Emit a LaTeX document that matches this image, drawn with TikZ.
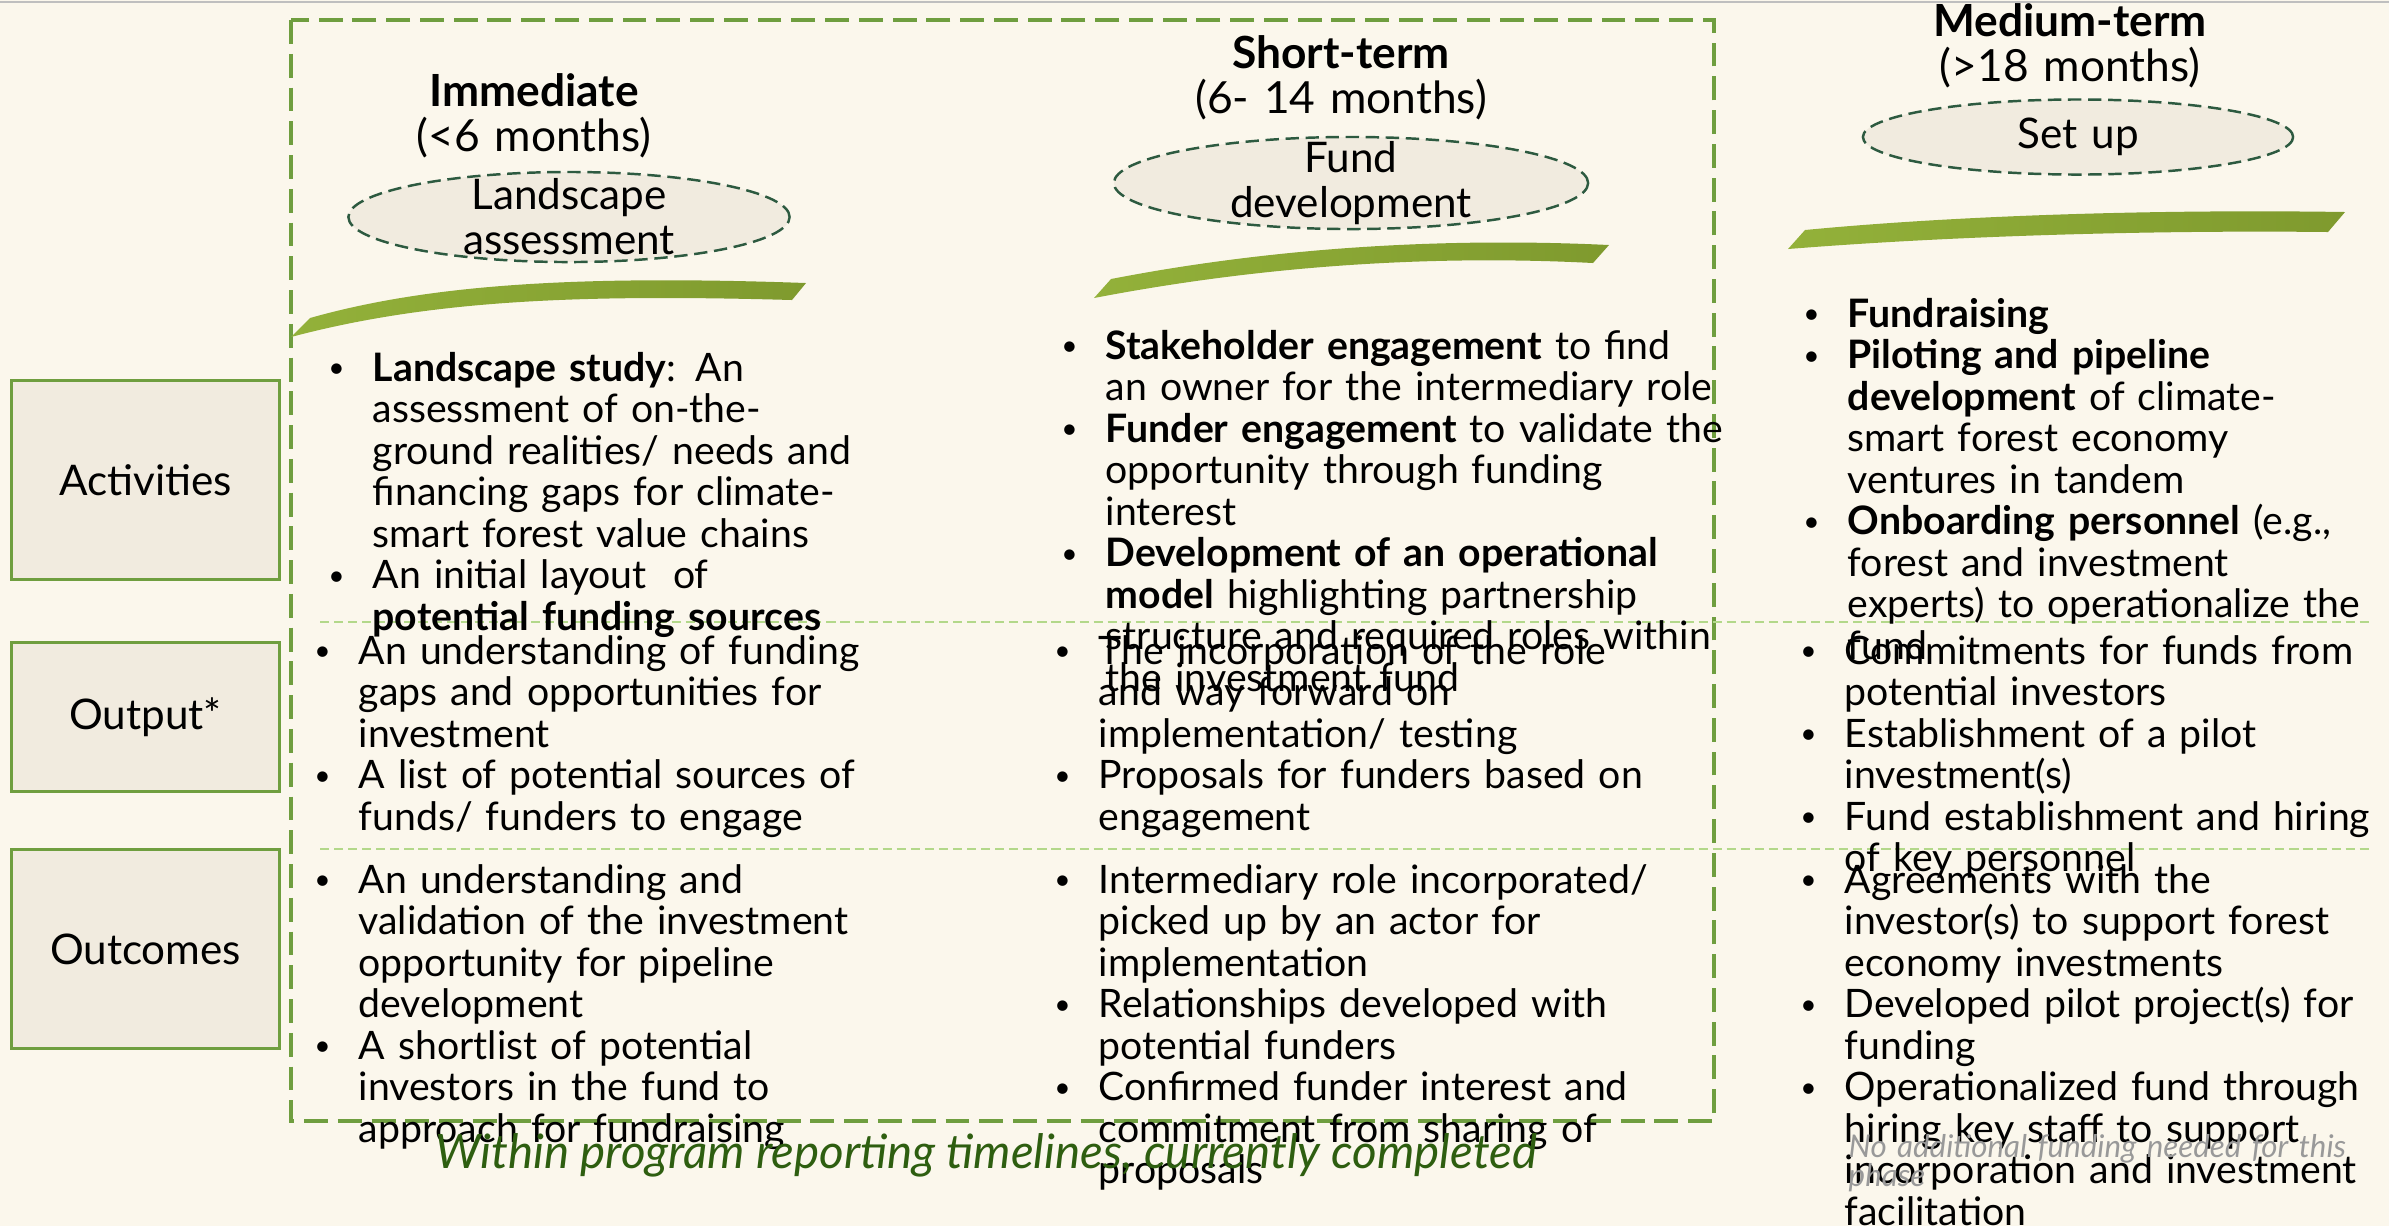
\documentclass[tikz,border=0pt]{standalone}
\usepackage{fontspec}
\setmainfont{Lato}
\usepackage{tikz}
\usetikzlibrary{shapes.geometric}

\definecolor{paper}{HTML}{FBF7EC}
\definecolor{leaf}{HTML}{6F9E3F}
\definecolor{pale}{HTML}{B3D88A}
\definecolor{boxfill}{HTML}{F1EBDF}
\definecolor{pine}{HTML}{2D5A40}
\definecolor{moss}{HTML}{2E5E10}
\definecolor{olive1}{HTML}{93B13A}
\definecolor{olive2}{HTML}{7F9A2E}

% small bullet hanging left of the text column
\newcommand{\itm}{\leavevmode\llap{\raisebox{0.9pt}{\fontsize{8}{8}\selectfont\textbullet}\hspace{8pt}}}

\tikzset{
  % dashed frame round the first two periods
  frame/.style={draw=leaf, line width=0.9pt, dash pattern=on 6.8pt off 2.8pt},
  % thin line between the rows
  rowline/.style={draw=pale, line width=0.55pt, dash pattern=on 2.6pt off 1.4pt},
  % boxes on the left
  rowbox/.style={
    rectangle,
    draw=leaf, line width=0.85pt,
    fill=boxfill,
    minimum width=2.67cm,
    font=\fontsize{12}{14}\selectfont},
  % dashed ellipse naming the phase
  phase/.style={
    ellipse,
    draw=pine, line width=0.7pt,
    dash pattern=on 3.8pt off 1.9pt,
    fill=boxfill,
    inner sep=0pt},
  phasetext/.style={
    text width=4cm, align=center, inner sep=0pt,
    font=\fontsize{12}{12.8}\selectfont},
  period/.style={
    anchor=base, text width=5cm, align=center, inner sep=0pt,
    font=\fontsize{12.6}{13}\selectfont},
  cell/.style={
    anchor=base west, text width=6.8cm, align=left, inner sep=0pt,
    font=\fontsize{11.15}{11.81}\selectfont},
  swoosh/.style={left color=olive1, right color=olive2}
}

\begin{document}
\begin{tikzpicture}[x=0.01cm, y=-0.01cm]
  \fill[paper] (0,0) rectangle (2389,1226);
  \useasboundingbox (0,0) rectangle (2389,1226);
  \draw[black!25, line width=0.6pt] (0,2) -- (2389,2);

  \draw[frame] (291,20) rectangle (1714,1121);
  \draw[rowline] (320,622) -- (2372,622);
  \draw[rowline] (320,849) -- (2372,849);

  % row labels
  \node[rowbox, minimum height=1.98cm] (activities) at (145.5,480) {Activities};
  \node[rowbox, minimum height=1.48cm] (output) at (145.5,717) {Output*};
  \node[rowbox, minimum height=1.99cm] (outcomes) at (145.5,949) {Outcomes};

  % swooshes under the phases
  \path[swoosh] (291,337) -- (310,318) .. controls (430,284) and (580,275) .. (806,283)
    -- (792,300) .. controls (580,294) and (430,300) .. (291,337) -- cycle;
  \path[swoosh] (1094,298) -- (1111,279) .. controls (1250,252) and (1420,236) .. (1609,245)
    -- (1593,263) .. controls (1420,254) and (1250,268) .. (1094,298) -- cycle;
  \path[swoosh] (1788,249) -- (1805,230) .. controls (1950,216) and (2150,209) .. (2345,212)
    -- (2328,232) .. controls (2150,230) and (1950,236) .. (1788,249) -- cycle;

  % periods
  \node[period] (immediate) at (534,106) {\textbf{Immediate}\\(<6 months)};
  \node[period] (shortterm) at (1341,68) {\textbf{Short-term}\\(6- 14 months)};
  \node[period] (mediumterm) at (2070,36) {\textbf{Medium-term}\\(>18 months)};

  % phases
  \node[phase, minimum width=4.41cm, minimum height=0.9cm] (landscape) at (569,217) {};
  \node[phasetext] (landscape text) at (landscape) {Landscape\\assessment};
  \node[phase, minimum width=4.74cm, minimum height=0.92cm] (funddev) at (1351,183) {};
  \node[phasetext] (funddev text) at (funddev) {Fund\\development};
  \node[phase, minimum width=4.30cm, minimum height=0.75cm] (setup) at (2078,137) {};
  \node[phasetext] (setup text) at (setup) {Set up};

  % immediate
  \node[cell] (act1) at (372,381) {\itm\textbf{Landscape study}: An\\assessment of on-the-\\ground realities/ needs and\\financing gaps for climate-\\smart forest value chains\\\itm An initial layout\ \ of\\\textbf{potential funding sources}};
  \node[cell] (out1) at (358,664) {\itm An understanding of funding\\gaps and opportunities for\\investment\\\itm A list of potential sources of\\funds/ funders to engage};
  \node[cell] (res1) at (358,893) {\itm An understanding and\\validation of the investment\\opportunity for pipeline\\development\\\itm A shortlist of potential\\investors in the fund to\\approach for fundraising};

  % short-term
  \node[cell] (act2) at (1105,359) {\itm\textbf{Stakeholder engagement} to find\\an owner for the intermediary role\\\itm\textbf{Funder engagement} to validate the\\opportunity through funding\\interest\\\itm\textbf{Development of an operational}\\\textbf{model} highlighting partnership\\structure and required roles within\\the investment fund};
  \node[cell] (out2) at (1098,664) {\itm The incorporation of the role\\and way forward on\\implementation/ testing\\\itm Proposals for funders based on\\engagement};
  \node[cell] (res2) at (1098,893) {\itm Intermediary role incorporated/\\picked up by an actor for\\implementation\\\itm Relationships developed with\\potential funders\\\itm Confirmed funder interest and\\commitment from sharing of\\proposals};

  % medium-term
  \node[cell] (act3) at (1847,327) {\itm\textbf{Fundraising}\\\itm\textbf{Piloting and pipeline}\\\textbf{development} of climate-\\smart forest economy\\ventures in tandem\\\itm\textbf{Onboarding personnel} (e.g.,\\forest and investment\\experts) to operationalize the\\fund};
  \node[cell] (out3) at (1844,664) {\itm Commitments for funds from\\potential investors\\\itm Establishment of a pilot\\investment(s)\\\itm Fund establishment and hiring\\of key personnel};
  \node[cell] (res3) at (1844,893) {\itm Agreements with the\\investor(s) to support forest\\economy investments\\\itm Developed pilot project(s) for\\funding\\\itm Operationalized fund through\\hiring key staff to support\\incorporation and investment\\facilitation};

  % notes at the foot
  \node[anchor=base, inner sep=0pt, text=moss, font=\fontsize{13.5}{14}\selectfont\itshape] (timeline) at (986,1168) {Within program reporting timelines, currently completed};
  \node[cell, text=black!40, font=\fontsize{8.9}{8.3}\selectfont\itshape] (nofunding) at (1848,1157) {No additional funding needed for this\\phase};
\end{tikzpicture}
\end{document}
